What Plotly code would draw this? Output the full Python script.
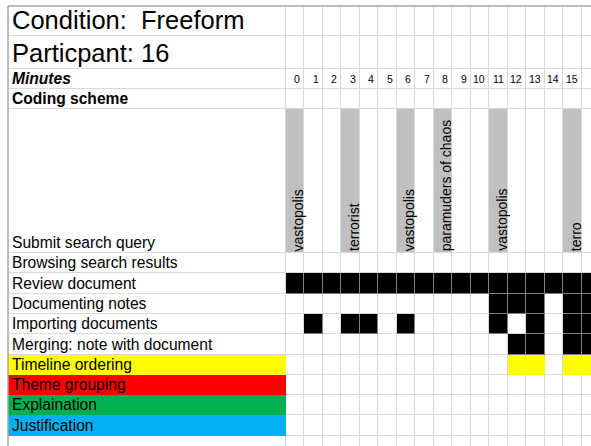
import numpy as np
import plotly.graph_objects as go

# ---------------- data ----------------
title_condition = "Condition:  Freeform"
title_participant = "Particpant: 16"
header_minutes = "Minutes"
header_scheme = "Coding scheme"

minutes = list(range(17))

codes = [
    "Submit search query",
    "Browsing search results",
    "Review document",
    "Documenting notes",
    "Importing documents",
    "Merging: note with document",
    "Timeline ordering",
    "Theme grouping",
    "Explaination",
    "Justification",
]

query_minutes = [0, 3, 6, 8, 11, 15]
query_terms = ["vastopolis", "terrorist", "vastopolis", "paramuders of chaos", "vastopolis", "terro"]

browsing_minutes = []
review_minutes = list(range(17))
documenting_minutes = [11, 12, 13, 15, 16]
importing_minutes = [1, 3, 4, 6, 11, 13, 15, 16]
merging_minutes = [12, 13, 15, 16]
timeline_minutes = [12, 13, 15, 16]
theme_minutes = []
explanation_minutes = []
justification_minutes = []

code_minutes = [query_minutes, browsing_minutes, review_minutes, documenting_minutes,
                importing_minutes, merging_minutes, timeline_minutes, theme_minutes,
                explanation_minutes, justification_minutes]

# ---------------- styles ----------------
W, H = 591, 446
FONT = "Liberation Sans, Arial, sans-serif"
GRID = "#d9d9d9"
FRAME = "#a6a6a6"
PALETTE = ["#ffffff", "#000000", "#c0c0c0", "#ffff00", "#ff0000", "#00b050", "#00b0f0", "#7f7f7f"]
# colour index of each code's marks and of its label cell
code_mark_idx = [2, 1, 1, 1, 1, 1, 3, 4, 5, 6]
code_label_idx = [0, 0, 0, 0, 0, 0, 3, 4, 5, 6]

COL_W = 18.48          # px per minute column
FRAME_LEFT = 8         # px
LABEL_RIGHT = 286      # px
FRAME_TOP = 6          # px
HEADER_H = [30, 33, 20, 20]
CODE_H = [144, 20.3, 20.7, 20, 20.3, 20.4, 20.3, 20, 20.3, 20.7]
TAIL_H = [20.5]

label_w = (LABEL_RIGHT - FRAME_LEFT) / COL_W
x_edges = [-label_w] + [m for m in minutes] + [minutes[-1] + 1]
row_h = HEADER_H + CODE_H + TAIL_H
y_edges = list(FRAME_TOP + np.concatenate([[0], np.cumsum(row_h)]))
n_rows = len(row_h)
n_cols = len(x_edges) - 1

# main colour-index grid and underlay grid
z = np.zeros((n_rows, n_cols))
zu = np.full((n_rows, n_cols), np.nan)
for k, (mins, mi, li) in enumerate(zip(code_minutes, code_mark_idx, code_label_idx)):
    r = len(HEADER_H) + k
    z[r, 0] = li
    if li:
        zu[r, 0] = li
    for m in mins:
        z[r, m + 1] = mi
        if mi == 1:
            zu[r, m + 1] = 7
        elif mi != 2:
            zu[r, m + 1] = mi

nc = len(PALETTE) - 1
cscale = [[i / nc, c] for i, c in enumerate(PALETTE)]

fig = go.Figure()
fig.add_trace(go.Heatmap(x=x_edges, y=y_edges, z=zu, zmin=0, zmax=nc, colorscale=cscale,
                         showscale=False, hoverinfo="skip"))
fig.add_trace(go.Heatmap(x=x_edges, y=y_edges, z=z, zmin=0, zmax=nc, colorscale=cscale,
                         showscale=False, xgap=1, ygap=1, hoverinfo="skip"))

ann = []
xl = -label_w
# titles
for r, (txt, size, bold, ital) in enumerate([
        (title_condition, 25.5, False, False),
        (title_participant, 25.5, False, False),
        (header_minutes, 15.6, True, True),
        (header_scheme, 15.6, True, False)]):
    t = txt
    if bold:
        t = "<b>" + t + "</b>"
    if ital:
        t = "<i>" + t + "</i>"
    ann.append(dict(x=xl, y=y_edges[r + 1], text=t, xanchor="left", yanchor="bottom",
                    xshift=2, showarrow=False, font=dict(size=size, color="black", family=FONT)))
# minutes
for m in minutes:
    ann.append(dict(x=m + 1, y=y_edges[3], text=str(m), xanchor="right", yanchor="bottom",
                    xshift=-2, yshift=2, showarrow=False,
                    font=dict(size=10.5, color="black", family=FONT)))
# code labels
for k, c in enumerate(codes):
    r = len(HEADER_H) + k
    ann.append(dict(x=xl, y=y_edges[r + 1], text=c, xanchor="left", yanchor="bottom",
                    xshift=2, showarrow=False, font=dict(size=15.6, color="black", family=FONT)))
# query terms
r_q = len(HEADER_H)
for m, term in zip(query_minutes, query_terms):
    ann.append(dict(x=m + 1, y=y_edges[r_q + 1], text=term, textangle=-90,
                    xanchor="right", yanchor="bottom", xshift=4, showarrow=False,
                    font=dict(size=14, color="black", family=FONT)))

fig.update_layout(
    width=W, height=H, margin=dict(l=0, r=0, t=0, b=0),
    paper_bgcolor="white", plot_bgcolor=GRID,
    xaxis=dict(domain=[FRAME_LEFT / W, 1], range=[-label_w, (W - LABEL_RIGHT) / COL_W],
               visible=False, fixedrange=True),
    yaxis=dict(domain=[0, 1 - FRAME_TOP / H], range=[H, FRAME_TOP],
               visible=False, fixedrange=True),
    annotations=ann,
    shapes=[
        dict(type="line", xref="x domain", yref="y domain", x0=0, x1=1, y0=1, y1=1,
             line=dict(color=FRAME, width=1.5)),
        dict(type="line", xref="x domain", yref="y domain", x0=0, x1=0, y0=0, y1=1,
             line=dict(color=FRAME, width=1.5)),
    ],
    showlegend=False,
)

fig.write_html("out.html", config={"displayModeBar": False},
               post_script="document.body.style.margin='0';document.body.style.overflow='hidden';")
